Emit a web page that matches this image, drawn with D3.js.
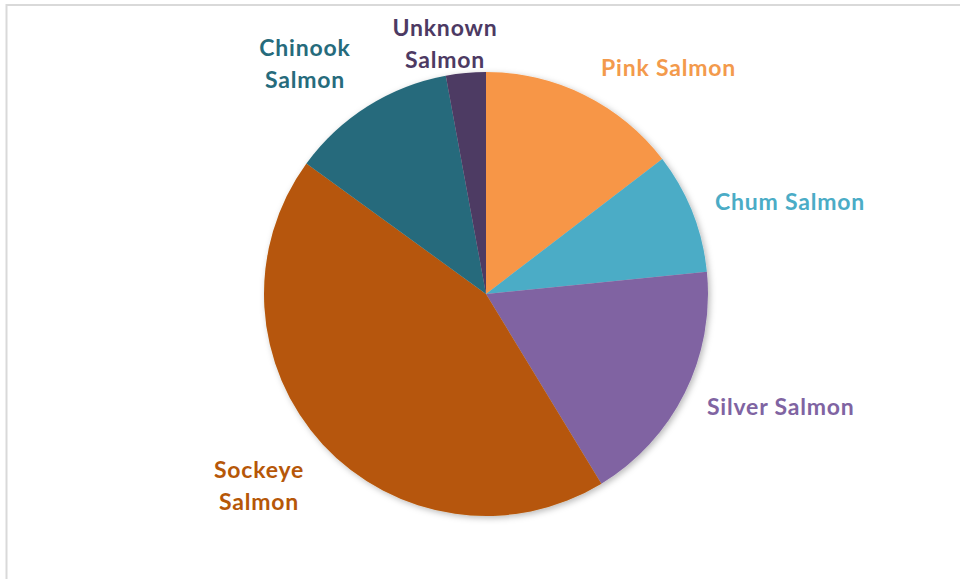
<!DOCTYPE html>
<html>
<head>
<meta charset="utf-8">
<script src="https://cdnjs.cloudflare.com/ajax/libs/d3/7.8.5/d3.min.js"></script>
<style>
  html, body { margin: 0; padding: 0; background: #fff; }
  svg { display: block; }
</style>
</head>
<body>
<div id="chart"></div>
<script>
// Salmon catch share by species (percent)
const species = ['Pink Salmon', 'Chum Salmon', 'Silver Salmon', 'Sockeye Salmon', 'Chinook Salmon', 'Unknown Salmon'];
const shares = [14.6, 8.8, 17.9, 43.7, 12.1, 2.9];
const sliceColors = ['#F79646', '#4BACC6', '#8064A2', '#B65708', '#266B7C', '#4D3A63'];
const labelColors = ['#F39A4C', '#4BACC6', '#8064A2', '#B65708', '#266B7C', '#4D3A63'];
// label text lines and where each label block sits (x, first baseline, anchor)
const labelLines = [['Pink Salmon'], ['Chum Salmon'], ['Silver Salmon'], ['Sockeye', 'Salmon'], ['Chinook', 'Salmon'], ['Unknown', 'Salmon']];
const labelPos = [[601, 76, 'start'], [715, 210, 'start'], [707, 415, 'start'], [259, 478, 'middle'], [305, 56, 'middle'], [445, 36, 'middle']];

const width = 960, height = 579;
const cx = 486, cy = 294, radius = 222;

const svg = d3.select('#chart').append('svg')
  .attr('width', width)
  .attr('height', height);

// chart frame
svg.append('rect')
  .attr('x', 6.5).attr('y', 5)
  .attr('width', width + 10).attr('height', height + 10)
  .style('fill', '#fff')
  .style('stroke', '#d9d9d9')
  .style('stroke-width', 2);

const defs = svg.append('defs');
const shadow = defs.append('filter').attr('id', 'shadow')
  .attr('x', '-10%').attr('y', '-10%').attr('width', '120%').attr('height', '120%');
shadow.append('feDropShadow')
  .attr('dx', 2).attr('dy', 2)
  .attr('stdDeviation', 3)
  .attr('flood-color', '#000')
  .attr('flood-opacity', 0.28);

const pie = d3.pie().sort(null).value(d => d);
const arc = d3.arc().innerRadius(0).outerRadius(radius);
const arcs = pie(shares);

const g = svg.append('g')
  .attr('transform', `translate(${cx},${cy})`)
  .attr('filter', 'url(#shadow)');

g.selectAll('path')
  .data(arcs)
  .enter()
  .append('path')
  .attr('d', arc)
  .style('fill', (d, i) => sliceColors[i]);

const labels = svg.append('g')
  .style('font-family', 'Lato, "Open Sans", sans-serif')
  .style('font-weight', 700)
  .style('font-size', '23px')
  .style('letter-spacing', '0.8px');

labels.selectAll('text')
  .data(species)
  .enter()
  .append('text')
  .attr('x', (d, i) => labelPos[i][0])
  .attr('y', (d, i) => labelPos[i][1])
  .attr('text-anchor', (d, i) => labelPos[i][2])
  .style('fill', (d, i) => labelColors[i])
  .each(function(d, i) {
    const t = d3.select(this);
    labelLines[i].forEach((line, k) => {
      t.append('tspan')
        .attr('x', labelPos[i][0])
        .attr('dy', k === 0 ? 0 : 32)
        .text(line);
    });
  });
</script>
</body>
</html>
